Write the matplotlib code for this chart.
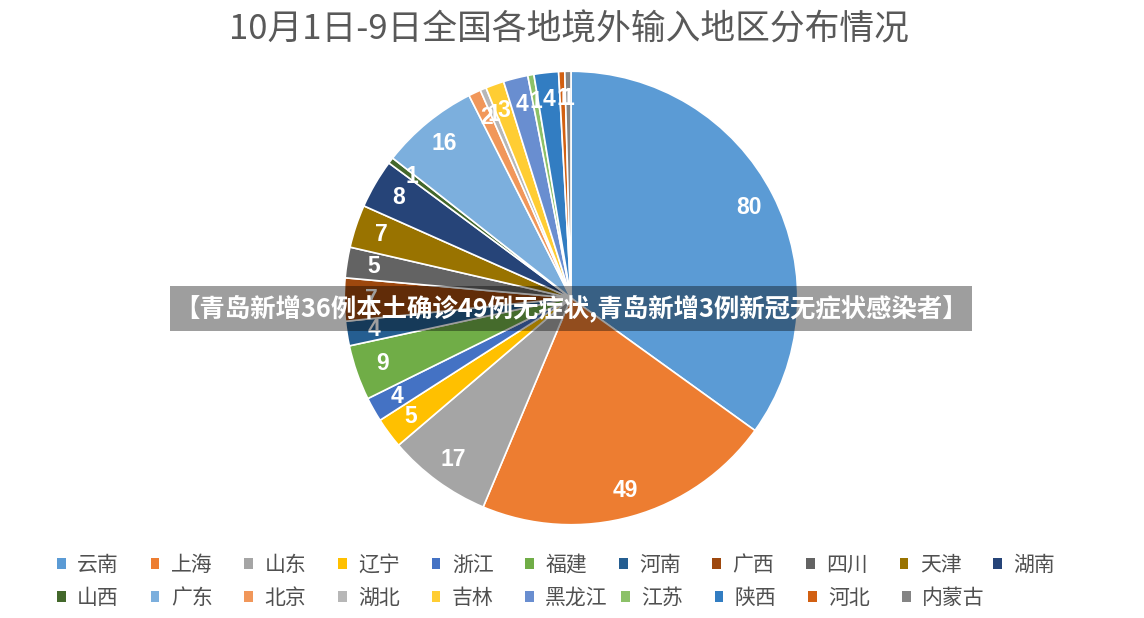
import numpy as np
import matplotlib
matplotlib.use("Agg")
import matplotlib.pyplot as plt
from matplotlib.patches import Patch, Rectangle

plt.rcParams['font.family'] = ['Noto Sans CJK SC', 'DejaVu Sans']

regions = ["云南", "上海", "山东", "辽宁", "浙江", "福建", "河南", "广西", "四川", "天津", "湖南",
           "山西", "广东", "北京", "湖北", "吉林", "黑龙江", "江苏", "陕西", "河北", "内蒙古"]
counts = [80, 49, 17, 5, 4, 9, 4, 7, 5, 7, 8,
          1, 16, 2, 1, 3, 4, 1, 4, 1, 1]
colors = ["#5B9BD5", "#ED7D31", "#A5A5A5", "#FFC000", "#4472C4", "#70AD47",
          "#255E91", "#9E480E", "#636363", "#997300", "#264478", "#43682B",
          "#7CAFDD", "#F1975A", "#B7B7B7", "#FFCD33", "#698ED0", "#8CC168",
          "#327DC2", "#D26012", "#848484"]

title = "10月1日-9日全国各地境外输入地区分布情况"
banner = "【青岛新增36例本土确诊49例无症状,青岛新增3例新冠无症状感染者】"

W, H = 1144, 618
fig = plt.figure(figsize=(W / 100, H / 100), dpi=100)
fig.patch.set_facecolor("white")

# pie centre (571, 298), radius ~228 px
cx, cy, r = 571, 298, 229
ax = fig.add_axes([(cx - r) / W, (H - cy - r) / H, 2 * r / W, 2 * r / H])
wedges, _, autotexts = ax.pie(counts, colors=colors, startangle=90, counterclock=False,
                              radius=1, autopct=lambda p: "%d" % round(p * sum(counts) / 100),
                              pctdistance=0.88,
                              wedgeprops=dict(edgecolor="white", linewidth=1.2),
                              textprops=dict(color="white", fontsize=16.5,
                                             family=["Liberation Sans", "DejaVu Sans"],
                                             fontweight="bold"))
ax.set_xlim(-1.01, 1.01)
ax.set_ylim(-1.01, 1.01)
ax.set_aspect("equal")
ax.axis("off")

fig.text(569 / W, 1 - 30 / H, title, ha="center", va="center", fontsize=25,
         color="#595959", fontweight="medium")

# legend: row 1, row 2 split after 黑龙江 (Excel packs 江苏 closer)
handles = [Patch(facecolor=c, edgecolor="none") for c in colors]
groups = [(0, 11, 57, 565), (11, 17, 57, 598), (17, 21, 621, 598)]
for a, b, x, y in groups:
    fig.legend(handles[a:b], regions[a:b], loc="center left",
               bbox_to_anchor=(x / W, 1 - y / H), ncol=b - a, frameon=False,
               fontsize=15, handlelength=0.42, handleheight=0.42,
               handletextpad=0.55, columnspacing=1.52, borderpad=0, borderaxespad=0,
               labelcolor="#505050")

# overlay banner
fig.patches.append(Rectangle((170 / W, 1 - 331 / H), 802 / W, 45 / H,
                             transform=fig.transFigure, facecolor="black",
                             alpha=0.38, edgecolor="none", zorder=5))
fig.text(571 / W, 1 - 308 / H, banner, ha="center", va="center", fontsize=18.3,
         color="white", fontweight="bold", zorder=6)

fig.savefig("out.png", dpi=100)
